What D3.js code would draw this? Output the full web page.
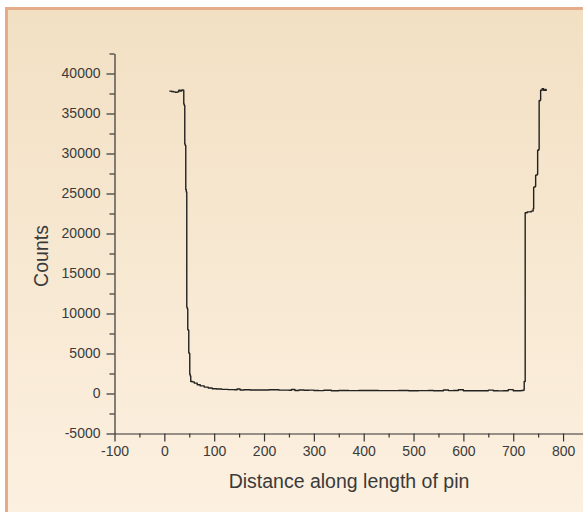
<!DOCTYPE html>
<html>
<head>
<meta charset="utf-8">
<script src="https://cdn.jsdelivr.net/npm/d3@7"></script>
<style>
  body { margin: 0; background: #fff; }
  svg { display: block; }
  text { font-family: Arial, "Liberation Sans", sans-serif; fill: #3a3a3a; }
</style>
</head>
<body>
<svg id="chart" width="583" height="512"></svg>
<script>
// distance along pin vs counts
const distance = [10, 14, 18, 22, 26, 29, 32, 35, 38,
  39, 40, 41, 42, 43, 44, 45, 46, 47, 48, 49, 50, 51, 52, 53,
  56, 60, 66, 72, 80, 88, 96, 105, 115, 128,
  140, 146, 152, 160, 172, 190, 210, 230, 250, 255, 262, 270, 280, 290, 300, 310,
  320, 335, 350, 370, 390, 410, 430, 450, 470, 490, 510, 530, 540, 550, 560, 570,
  580, 590, 600, 620, 640, 650, 660, 670, 680, 690, 700, 710, 716, 720,
  722, 724, 728, 732, 736, 740, 741, 744, 745, 748, 749, 751, 752, 754, 755, 758, 761, 764, 766];
const counts = [37800, 37750, 37700, 37650, 37700, 37900, 37800, 37950, 37900,
  36200, 36000, 31200, 31000, 25500, 25200, 10800, 10600, 8000, 7900, 5100, 5000, 2400, 2200, 1500,
  1450, 1300, 1100, 950, 800, 690, 600, 560, 520, 480,
  470, 560, 440, 460, 430, 430, 470, 420, 410, 500, 380, 430, 400, 420, 380, 360,
  400, 350, 380, 360, 380, 370, 360, 360, 370, 350, 360, 380, 340, 350, 440, 360,
  380, 460, 350, 340, 350, 420, 350, 330, 340, 480, 340, 350, 380, 420,
  1500, 22600, 22700, 22700, 22800, 23100, 25800, 25900, 27300, 27400, 30400, 30500, 36600, 36700, 37900, 38100, 37900, 38000, 37800];

const xTicks = [-100, 0, 100, 200, 300, 400, 500, 600, 700, 800];
const yTicks = [-5000, 0, 5000, 10000, 15000, 20000, 25000, 30000, 35000, 40000];

const svg = d3.select('#chart');
const W = 583, H = 512;

const defs = svg.append('defs');
const grad = defs.append('linearGradient')
  .attr('id', 'bg').attr('x1', 0).attr('y1', 0).attr('x2', 0).attr('y2', 1);
grad.append('stop').attr('offset', '0%').attr('stop-color', '#f2e0c3');
grad.append('stop').attr('offset', '100%').attr('stop-color', '#fcf0e0');

// panel with salmon border
svg.append('rect')
  .attr('x', 6.5).attr('y', 8.5)
  .attr('width', W).attr('height', H)
  .attr('fill', 'url(#bg)')
  .attr('stroke', '#e6ab8b')
  .attr('stroke-width', 3);

const x = d3.scaleLinear().domain([-100, 840]).range([114.5, 583]);
const y = d3.scaleLinear().domain([-5000, 42500]).range([433.5, 53.5]);

const axisColor = '#333';
const fmt = d => String(d); // plain hyphen for negatives, like the original

// x axis
const gx = svg.append('g').attr('transform', `translate(0,${y(-5000)})`);
gx.call(d3.axisBottom(x).tickValues(d3.range(-50, 850, 100)).tickSize(4).tickFormat(''));
gx.call(g => g.select('.domain').remove());
const gx2 = svg.append('g').attr('transform', `translate(0,${y(-5000)})`)
  .call(d3.axisBottom(x).tickValues(xTicks).tickSize(8).tickSizeOuter(0).tickPadding(5).tickFormat(fmt));
gx2.selectAll('text').attr('font-size', 14).attr('font-family', 'Arial, "Liberation Sans", sans-serif').attr('fill', '#3a3a3a');

// y axis
const gy = svg.append('g').attr('transform', `translate(${x(-100)},0)`);
gy.call(d3.axisLeft(y).tickValues(d3.range(-2500, 42501, 5000)).tickSize(5).tickFormat(''));
gy.call(g => g.select('.domain').remove());
const gy2 = svg.append('g').attr('transform', `translate(${x(-100)},0)`)
  .call(d3.axisLeft(y).tickValues(yTicks).tickSize(8).tickSizeOuter(0).tickPadding(6).tickFormat(fmt));
gy2.selectAll('text').attr('font-size', 14).attr('font-family', 'Arial, "Liberation Sans", sans-serif').attr('fill', '#3a3a3a');
svg.selectAll('.domain, .tick line').attr('stroke', axisColor).attr('stroke-width', 1.2);

// axis titles
svg.append('text')
  .attr('x', 349).attr('y', 488)
  .attr('text-anchor', 'middle')
  .attr('font-size', 19.5)
  .text('Distance along length of pin');
svg.append('text')
  .attr('transform', 'translate(48,256) rotate(-90)')
  .attr('text-anchor', 'middle')
  .attr('font-size', 19.5)
  .text('Counts');

// data line
const pts = distance.map((d, i) => [d, counts[i]]);
svg.append('path')
  .datum(pts)
  .attr('fill', 'none')
  .attr('stroke', '#222')
  .attr('stroke-width', 1.4)
  .attr('stroke-linejoin', 'round')
  .attr('d', d3.line().x(d => x(d[0])).y(d => y(d[1])).curve(d3.curveStepAfter));
</script>
</body>
</html>
